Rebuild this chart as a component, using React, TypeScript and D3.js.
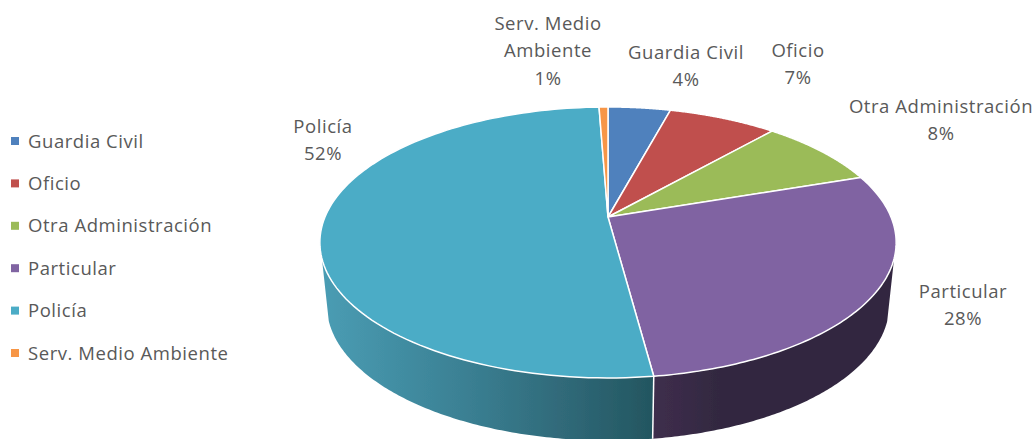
import React from "react";
import * as d3 from "d3";

const categories = ["Guardia Civil", "Oficio", "Otra Administración", "Particular", "Policía", "Serv. Medio Ambiente"];
const shares = [4.2, 7.3, 8.3, 28.1, 51.5, 0.6];
const colors = ["#4f81bd", "#c0504d", "#9bbb59", "#8064a2", "#4bacc6", "#f79646"];
const labelLines = [["Guardia Civil"], ["Oficio"], ["Otra Administración"], ["Particular"], ["Policía"], ["Serv. Medio", "Ambiente"]];
const labelAnchors = [[686, 52], [798, 50], [941, 106], [963, 291], [323, 126], [548, 23]];

const APEX_X = 608, APEX_Y = 217, A = 283, B = 130.7, K = 0.188;
const LOWER_SX = 0.976, LOWER_DY = 62.5;
const FONT = "'Open Sans', sans-serif";
const LINE = 27.5;

type P = [number, number];
// perspective projection of a point on the pie's rim (angle clockwise from top)
const top = (t: number): P => {
  const u = Math.sin(t), v = -Math.cos(t), d = 1 - K * v;
  return [APEX_X + (A * u) / d, APEX_Y + (B * v) / d];
};
const low = (t: number): P => {
  const [x, y] = top(t);
  return [APEX_X + (x - APEX_X) * LOWER_SX, y + LOWER_DY];
};
const line = d3.line<P>();
const arcPts = (a: number, b: number, f: (t: number) => P) =>
  d3.range(0, 121).map((i) => f(a + ((b - a) * i) / 120));

const pieGen = d3.pie<number>().sort(null).startAngle(0).endAngle(2 * Math.PI);
const slices = pieGen(shares);

const LEFT_T = 2 * Math.PI - Math.acos(-0.3);
const RIGHT_T = Math.acos(-0.3);
const seamT = slices[3].endAngle;

const legendY = d3.scalePoint<string>().domain(categories).range([141, 353]);

export default function App() {
  const sidePolicia = [...arcPts(seamT, LEFT_T, top), ...arcPts(LEFT_T, seamT, low)];
  const sidePart = [...arcPts(RIGHT_T, seamT, top), ...arcPts(seamT, RIGHT_T, low)];
  return (
    <svg width={1036} height={439} style={{ position: "absolute", left: 0, top: 0, background: "#fff" }}>
      <defs>
        <linearGradient id="gPol" gradientUnits="userSpaceOnUse" x1={320} x2={653} y1={0} y2={0}>
          <stop offset="0" stopColor="#4a9db4" />
          <stop offset="0.45" stopColor="#3a7f92" />
          <stop offset="0.75" stopColor="#2f6877" />
          <stop offset="1" stopColor="#235660" />
        </linearGradient>
        <linearGradient id="gPar" gradientUnits="userSpaceOnUse" x1={653} x2={720} y1={0} y2={0}>
          <stop offset="0" stopColor="#3f2e4d" />
          <stop offset="1" stopColor="#322840" />
        </linearGradient>
        <filter id="soft" x="-5%" y="-5%" width="110%" height="110%">
          <feGaussianBlur stdDeviation="0.35" />
        </filter>
      </defs>
      <g filter="url(#soft)">
        <path d={line(sidePolicia) + "Z"} fill="url(#gPol)" />
        <path d={line(sidePart) + "Z"} fill="url(#gPar)" />
        <path d={line([top(seamT), low(seamT)]) as string} stroke="#fff" strokeWidth={1.5} fill="none" />
        {slices.map((s, i) => (
          <path
            key={categories[i]}
            d={line([[APEX_X, APEX_Y], ...arcPts(s.startAngle, s.endAngle, top)]) + "Z"}
            fill={colors[i]}
            stroke="#fff"
            strokeWidth={1.5}
            strokeLinejoin="round"
          />
        ))}
      </g>
      <g fontFamily={FONT} fontSize={18.5} letterSpacing={0.55} fill="#595959">
        {categories.map((c, i) => (
          <g key={c}>
            <rect x={11} y={(legendY(c) as number) - 4} width={8} height={8} fill={colors[i]} />
            <text x={28} y={(legendY(c) as number) + 6.5}>{c}</text>
          </g>
        ))}
        {slices.map((s, i) => {
          const [x, y] = labelAnchors[i];
          const lines = [...labelLines[i], `${Math.round(shares[i])}%`];
          return (
            <text key={i} textAnchor="middle">
              {lines.map((l, j) => (
                <tspan key={j} x={x} y={y + 6.5 + j * LINE}>{l}</tspan>
              ))}
            </text>
          );
        })}
      </g>
    </svg>
  );
}
